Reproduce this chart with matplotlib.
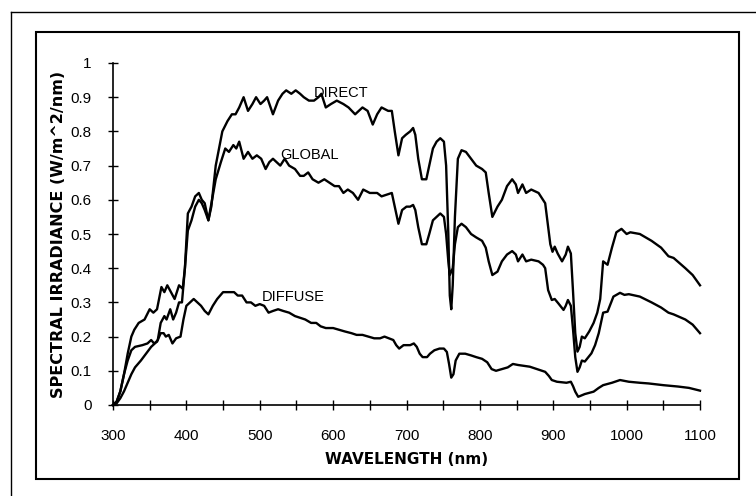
import matplotlib
matplotlib.use("Agg")
import matplotlib.pyplot as plt
from matplotlib.lines import Line2D
from matplotlib.patches import Rectangle

# (wavelength nm, irradiance W/m^2/nm)
direct_points = [
    (300, 0.0), (305, 0.01), (310, 0.04), (315, 0.09), (320, 0.15), (325, 0.20), (329, 0.22),
    (335, 0.24), (343, 0.25), (350, 0.28), (355, 0.27), (360, 0.28), (366, 0.345), (370, 0.33),
    (374, 0.35), (379, 0.33), (384, 0.31), (390, 0.35), (395, 0.34), (398, 0.40), (402, 0.56),
    (407, 0.58), (412, 0.61), (417, 0.62), (421, 0.60), (425, 0.59), (430, 0.54), (434, 0.58),
    (440, 0.70), (449, 0.80), (456, 0.83), (462, 0.85), (467, 0.85), (472, 0.87), (478, 0.90),
    (484, 0.86), (490, 0.88), (495, 0.90), (501, 0.88), (506, 0.89), (510, 0.90), (518, 0.85),
    (525, 0.89), (531, 0.91), (536, 0.92), (543, 0.91), (549, 0.92), (555, 0.91), (560, 0.90),
    (567, 0.89), (574, 0.89), (580, 0.90), (584, 0.91), (590, 0.87), (597, 0.88), (605, 0.89),
    (614, 0.88), (621, 0.87), (630, 0.85), (640, 0.87), (647, 0.86), (654, 0.82), (660, 0.85),
    (666, 0.87), (675, 0.86), (680, 0.86), (684, 0.80), (689, 0.73), (694, 0.78), (699, 0.79),
    (705, 0.80), (709, 0.81), (712, 0.79), (716, 0.72), (721, 0.66), (727, 0.66), (731, 0.70),
    (736, 0.75), (741, 0.77), (746, 0.78), (751, 0.77), (754, 0.70), (757, 0.50), (759, 0.32),
    (761, 0.28), (763, 0.35), (766, 0.55), (770, 0.72), (775, 0.745), (781, 0.74), (788, 0.72),
    (795, 0.70), (803, 0.69), (808, 0.68), (812, 0.62), (817, 0.55), (824, 0.58), (830, 0.60),
    (837, 0.64), (844, 0.66), (849, 0.645), (852, 0.62), (858, 0.645), (863, 0.62), (870, 0.63),
    (880, 0.62), (886, 0.60), (889, 0.59), (893, 0.52), (896, 0.47), (899, 0.448), (902, 0.463),
    (906, 0.443), (912, 0.42), (917, 0.44), (920, 0.463), (924, 0.443), (927, 0.33), (930, 0.21),
    (933, 0.156), (936, 0.17), (939, 0.20), (943, 0.195), (949, 0.215), (955, 0.24), (960, 0.27),
    (964, 0.31), (968, 0.42), (974, 0.41), (980, 0.46), (986, 0.505), (993, 0.515), (1000, 0.50),
    (1005, 0.505), (1018, 0.50), (1034, 0.48), (1047, 0.46), (1057, 0.435), (1064, 0.43),
    (1080, 0.40), (1090, 0.38), (1100, 0.35),
]

global_points = [
    (300, 0.0), (305, 0.005), (310, 0.02), (315, 0.04), (320, 0.065), (325, 0.09), (330, 0.11),
    (338, 0.13), (345, 0.15), (352, 0.17), (357, 0.18), (361, 0.19), (365, 0.24), (370, 0.26),
    (373, 0.25), (378, 0.28), (382, 0.25), (386, 0.27), (390, 0.30), (394, 0.30), (398, 0.40),
    (402, 0.51), (407, 0.54), (412, 0.58), (417, 0.60), (421, 0.59), (425, 0.57), (430, 0.54),
    (435, 0.60), (440, 0.66), (447, 0.71), (453, 0.75), (458, 0.74), (464, 0.76), (468, 0.75),
    (472, 0.77), (478, 0.72), (484, 0.74), (490, 0.72), (496, 0.73), (502, 0.72), (508, 0.69),
    (513, 0.71), (518, 0.72), (523, 0.71), (528, 0.70), (534, 0.72), (540, 0.70), (548, 0.69),
    (555, 0.67), (560, 0.67), (566, 0.68), (572, 0.66), (580, 0.65), (588, 0.66), (595, 0.65),
    (602, 0.64), (608, 0.64), (614, 0.62), (620, 0.63), (627, 0.62), (634, 0.60), (641, 0.63),
    (650, 0.62), (660, 0.62), (666, 0.61), (680, 0.62), (684, 0.58), (689, 0.53), (694, 0.57),
    (700, 0.58), (705, 0.58), (709, 0.585), (712, 0.57), (716, 0.52), (721, 0.47), (727, 0.47),
    (731, 0.50), (736, 0.54), (741, 0.55), (746, 0.56), (751, 0.55), (754, 0.50), (757, 0.42),
    (759, 0.38), (761, 0.39), (763, 0.40), (766, 0.47), (770, 0.52), (775, 0.53), (781, 0.52),
    (788, 0.50), (795, 0.49), (803, 0.48), (808, 0.46), (812, 0.42), (817, 0.38), (824, 0.39),
    (830, 0.42), (837, 0.44), (844, 0.45), (849, 0.44), (852, 0.42), (858, 0.44), (863, 0.42),
    (870, 0.425), (880, 0.42), (886, 0.41), (889, 0.40), (893, 0.336), (898, 0.307), (902, 0.31),
    (907, 0.297), (914, 0.278), (917, 0.29), (920, 0.307), (924, 0.29), (927, 0.22), (930, 0.14),
    (933, 0.097), (936, 0.11), (939, 0.13), (943, 0.127), (952, 0.151), (957, 0.175), (962, 0.21),
    (968, 0.27), (974, 0.273), (982, 0.317), (991, 0.328), (997, 0.322), (1003, 0.324),
    (1018, 0.317), (1034, 0.30), (1047, 0.285), (1057, 0.27), (1064, 0.265), (1080, 0.25),
    (1090, 0.235), (1100, 0.21),
]

diffuse_points = [
    (300, 0.0), (305, 0.01), (310, 0.04), (315, 0.09), (320, 0.13), (325, 0.16), (330, 0.17),
    (340, 0.175), (347, 0.18), (352, 0.19), (356, 0.18), (360, 0.185), (365, 0.21), (369, 0.21),
    (372, 0.20), (376, 0.205), (381, 0.18), (386, 0.195), (392, 0.20), (396, 0.25), (400, 0.29),
    (405, 0.30), (410, 0.31), (415, 0.30), (420, 0.29), (425, 0.275), (430, 0.265), (436, 0.29),
    (442, 0.31), (450, 0.33), (458, 0.33), (465, 0.33), (470, 0.32), (476, 0.32), (482, 0.30),
    (488, 0.30), (494, 0.29), (500, 0.295), (506, 0.29), (512, 0.27), (518, 0.275), (525, 0.28),
    (532, 0.275), (540, 0.27), (548, 0.26), (555, 0.255), (562, 0.25), (570, 0.24), (577, 0.24),
    (583, 0.23), (590, 0.225), (600, 0.225), (608, 0.22), (616, 0.215), (625, 0.21), (632, 0.205),
    (640, 0.205), (648, 0.20), (656, 0.195), (664, 0.195), (670, 0.20), (676, 0.195), (682, 0.19),
    (686, 0.175), (690, 0.165), (696, 0.175), (705, 0.175), (710, 0.18), (714, 0.17), (718, 0.15),
    (722, 0.14), (728, 0.14), (732, 0.15), (738, 0.16), (745, 0.165), (751, 0.165), (755, 0.155),
    (758, 0.12), (761, 0.08), (764, 0.09), (767, 0.13), (772, 0.15), (780, 0.15), (788, 0.145),
    (795, 0.14), (803, 0.135), (810, 0.125), (816, 0.105), (822, 0.10), (830, 0.105), (838, 0.11),
    (845, 0.12), (852, 0.117), (868, 0.112), (882, 0.102), (889, 0.097), (894, 0.085),
    (898, 0.073), (905, 0.068), (918, 0.065), (924, 0.068), (927, 0.055), (930, 0.039),
    (934, 0.024), (943, 0.032), (955, 0.039), (962, 0.05), (968, 0.058), (980, 0.065),
    (991, 0.073), (1003, 0.068), (1018, 0.065), (1030, 0.063), (1050, 0.058), (1070, 0.054),
    (1085, 0.05), (1100, 0.042),
]

# curve labels, placed where they sit in the scan
curve_labels = ["DIRECT", "GLOBAL", "DIFFUSE"]
label_nm = [573, 528, 503]
label_val = [0.912, 0.73, 0.316]

x_ticks = [300, 400, 500, 600, 700, 800, 900, 1000, 1100]
y_ticks = [0, 0.1, 0.2, 0.3, 0.4, 0.5, 0.6, 0.7, 0.8, 0.9, 1]
y_tick_labels = ["0", "0.1", "0.2", "0.3", "0.4", "0.5", "0.6", "0.7", "0.8", "0.9", "1"]

plt.rcParams["font.family"] = ["Liberation Sans", "DejaVu Sans"]

W, H = 756, 496
fig = plt.figure(figsize=(W / 100, H / 100), dpi=100)
ax = fig.add_axes([113 / W, 1 - 405 / H, (700 - 113) / W, (405 - 63) / H])

for points in [direct_points, global_points, diffuse_points]:
    nm, val = zip(*points)
    ax.plot(nm, val, color="black", lw=1.7, solid_joinstyle="round", clip_on=False)

for text, nm, val in zip(curve_labels, label_nm, label_val):
    ax.text(nm, val, text, fontsize=10.5, ha="left", va="center")

ax.set_xlim(300, 1100)
ax.set_ylim(0, 1)
ax.set_xticks(x_ticks)
ax.set_xticks(range(350, 1100, 100), minor=True)
ax.set_yticks(y_ticks)
ax.set_yticklabels(y_tick_labels)

for side in ["top", "right"]:
    ax.spines[side].set_visible(False)
for side in ["left", "bottom"]:
    ax.spines[side].set_linewidth(1.2)

ax.tick_params(axis="both", which="both", direction="inout", length=7, width=1.0, labelsize=11)
ax.tick_params(axis="x", pad=14)
ax.tick_params(axis="y", pad=12)

ax.set_xlabel("WAVELENGTH (nm)", fontsize=11, fontweight="bold", family="DejaVu Sans", labelpad=6)
ax.set_ylabel("SPECTRAL IRRADIANCE (W/m^2/nm)", fontsize=11.5, fontweight="bold",
              family="DejaVu Sans", labelpad=3)

# scan borders: inner box and the partial outer frame
fig.patches.append(Rectangle((36 / W, 1 - 479 / H), (739 - 36) / W, (479 - 32) / H,
                             transform=fig.transFigure, fill=False, lw=1.5, color="black"))
fig.lines.append(Line2D([11 / W, 1], [1 - 12 / H, 1 - 12 / H], transform=fig.transFigure,
                        lw=1.0, color="black"))
fig.lines.append(Line2D([11 / W, 11 / W], [0, 1 - 12 / H], transform=fig.transFigure,
                        lw=1.0, color="black"))

fig.savefig("out.png", dpi=100)
